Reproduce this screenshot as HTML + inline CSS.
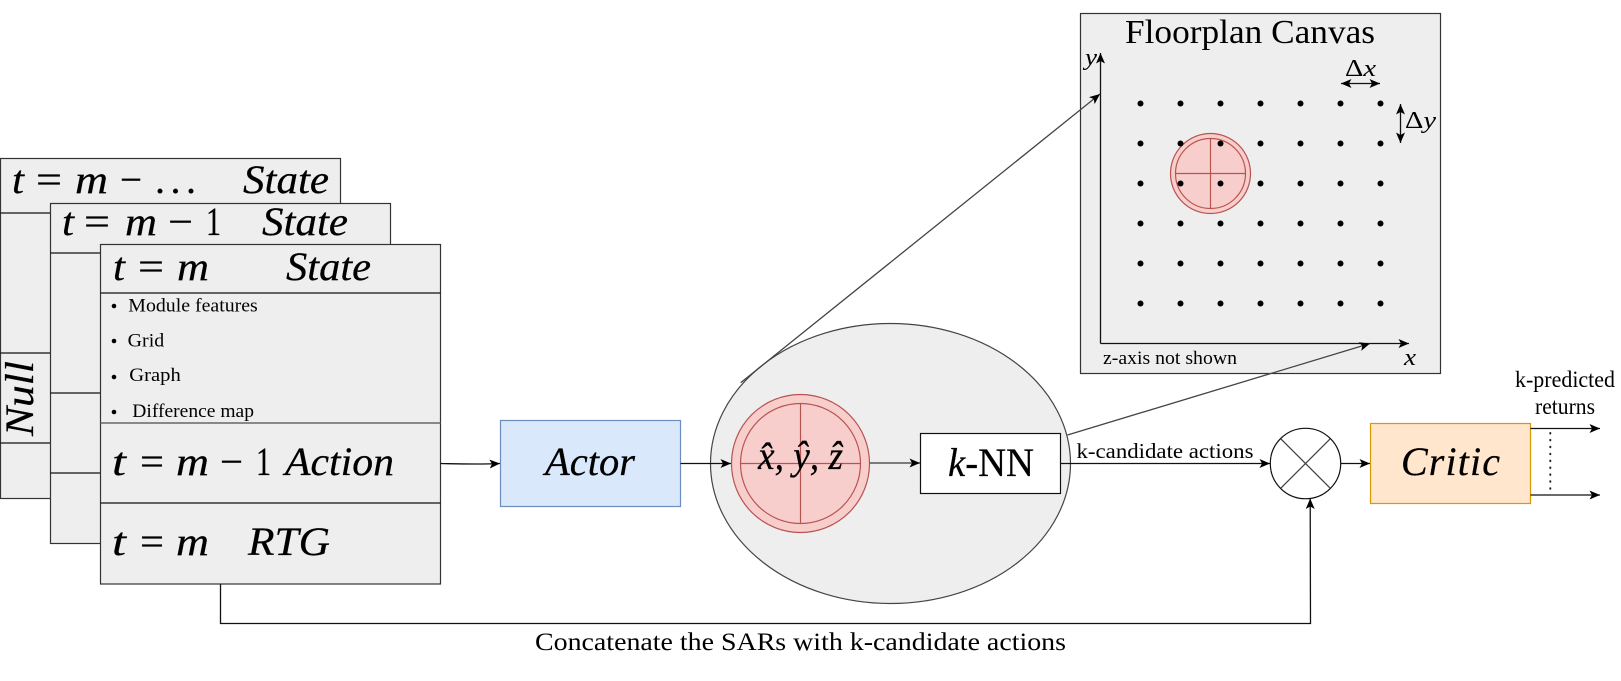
<!DOCTYPE html>
<html><head><meta charset="utf-8"><style>
html,body{margin:0;padding:0;background:#fff}
svg{display:block}
text{font-family:"Liberation Serif",serif;fill:#000}
.i{font-style:italic}
.b{stroke:#333;stroke-width:1.2;fill:#eee}
.l{stroke:#111;stroke-width:1.3;fill:none}
.g{stroke:#444;stroke-width:1.3;fill:none}
.r{stroke:#b85450;stroke-width:1.2;fill:#f8cecc}
.m{font-size:40px;stroke:#000;stroke-width:.25}
.s{font-size:18.5px}
</style></head><body>
<svg width="1621" height="681" viewBox="0 0 1621 681" xmlns="http://www.w3.org/2000/svg">
<defs>
<marker id="a" markerUnits="userSpaceOnUse" markerWidth="12" markerHeight="11" refX="10.5" refY="5" orient="auto-start-reverse"><path d="M0,0.5 L10.5,5 L0,9.5 L2.5,5Z" fill="#000"/></marker>
</defs>

<!-- back card -->
<rect class="b" x="0.5" y="158.5" width="340" height="340"/>
<path class="l" d="M0.5,213H50M0.5,353H50M0.5,443H50"/>
<text class="m i" x="12" y="193" textLength="12" lengthAdjust="spacingAndGlyphs">t</text>
<text class="m" x="36" y="193" textLength="26" lengthAdjust="spacingAndGlyphs">=</text>
<text class="m i" x="75" y="193" textLength="33" lengthAdjust="spacingAndGlyphs">m</text>
<text class="m" x="120" y="193" textLength="22" lengthAdjust="spacingAndGlyphs">−</text>
<text class="m" x="155" y="193" textLength="41">...</text>
<text class="m i" x="243" y="193" textLength="86" lengthAdjust="spacingAndGlyphs">State</text>
<text class="m i" transform="translate(33,436) rotate(-90)" x="0" y="0" textLength="75" lengthAdjust="spacingAndGlyphs">Null</text>

<!-- middle card -->
<rect class="b" x="50.5" y="203.5" width="340" height="340"/>
<path class="l" d="M50.5,253H100M50.5,393H100M50.5,473H100"/>
<text class="m i" x="62" y="235" textLength="12" lengthAdjust="spacingAndGlyphs">t</text>
<text class="m" x="84" y="235" textLength="26" lengthAdjust="spacingAndGlyphs">=</text>
<text class="m i" x="125" y="235" textLength="32" lengthAdjust="spacingAndGlyphs">m</text>
<text class="m" x="168" y="235" textLength="25" lengthAdjust="spacingAndGlyphs">−</text>
<text class="m" x="206" y="235" textLength="15" lengthAdjust="spacingAndGlyphs">1</text>
<text class="m i" x="262" y="235" textLength="86" lengthAdjust="spacingAndGlyphs">State</text>

<!-- front card -->
<rect class="b" x="100.5" y="244.5" width="340" height="339.5"/>
<path class="l" d="M100.5,293H440.5M100.5,503H440.5"/>
<path d="M100.5,423H440.5" stroke="#666" stroke-width="1.6" fill="none"/>
<text class="m i" x="113" y="280" textLength="12" lengthAdjust="spacingAndGlyphs">t</text>
<text class="m" x="138" y="280" textLength="26" lengthAdjust="spacingAndGlyphs">=</text>
<text class="m i" x="177" y="280" textLength="32" lengthAdjust="spacingAndGlyphs">m</text>
<text class="m i" x="286" y="280" textLength="85" lengthAdjust="spacingAndGlyphs">State</text>

<circle cx="114" cy="306" r="2.3"/><text class="s" x="128.3" y="311.5" textLength="129.5" lengthAdjust="spacingAndGlyphs">Module features</text>
<circle cx="114" cy="341" r="2.3"/><text class="s" x="127.7" y="346.5" textLength="36.5" lengthAdjust="spacingAndGlyphs">Grid</text>
<circle cx="114" cy="377" r="2.3"/><text class="s" x="129.3" y="381" textLength="51.5" lengthAdjust="spacingAndGlyphs">Graph</text>
<circle cx="114" cy="412" r="2.3"/><text class="s" x="132.3" y="417" textLength="121.7" lengthAdjust="spacingAndGlyphs">Difference map</text>

<text class="m i" x="112" y="475" textLength="14" lengthAdjust="spacingAndGlyphs">t</text>
<text class="m" x="140" y="475" textLength="24" lengthAdjust="spacingAndGlyphs">=</text>
<text class="m i" x="176" y="475" textLength="33" lengthAdjust="spacingAndGlyphs">m</text>
<text class="m" x="220" y="475" textLength="23" lengthAdjust="spacingAndGlyphs">−</text>
<text class="m" x="256" y="475" textLength="15" lengthAdjust="spacingAndGlyphs">1</text>
<text class="m i" x="285" y="475" textLength="109" lengthAdjust="spacingAndGlyphs">Action</text>

<text class="m i" x="112" y="555" textLength="14" lengthAdjust="spacingAndGlyphs">t</text>
<text class="m" x="140" y="555" textLength="24" lengthAdjust="spacingAndGlyphs">=</text>
<text class="m i" x="176" y="555" textLength="33" lengthAdjust="spacingAndGlyphs">m</text>
<text class="m i" x="248" y="555" textLength="82" lengthAdjust="spacingAndGlyphs">RTG</text>

<!-- actor -->
<path class="l" d="M440.5,463.5C465,464 480,464.5 500,463.5" marker-end="url(#a)"/>
<rect x="500.5" y="420.5" width="180" height="86" fill="#dae8fc" stroke="#6c8ebf" stroke-width="1.2"/>
<text class="m i" x="545" y="475" textLength="90" lengthAdjust="spacingAndGlyphs">Actor</text>

<!-- concat connector -->
<path class="l" d="M220.5,584V623.5H1310.5L1310.2,498.5" marker-end="url(#a)"/>
<text font-size="25" x="535" y="650" textLength="531" lengthAdjust="spacingAndGlyphs">Concatenate the SARs with k-candidate actions</text>

<!-- ellipse -->
<ellipse cx="890.5" cy="463.5" rx="180" ry="140" fill="#eee" stroke="#444" stroke-width="1.2"/>
<path class="l" d="M680.5,463.5H731" marker-end="url(#a)"/>
<circle class="r" cx="800.5" cy="463.5" r="69"/>
<circle class="r" cx="800.5" cy="463.5" r="60"/>
<path d="M740.5,463.5H860.5M800.5,403.5V523.5" stroke="#b85450" stroke-width="1.2"/>
<text class="m i" x="758" y="469" textLength="85" lengthAdjust="spacingAndGlyphs">x̂, ŷ, ẑ</text>
<path d="M869.5,463H920" stroke="#555" stroke-width="1.6" fill="none" marker-end="url(#a)"/>
<rect x="920.5" y="433.5" width="140" height="60" fill="#fff" stroke="#111" stroke-width="1.2"/>
<text class="m" x="948" y="476" font-size="40" textLength="86" lengthAdjust="spacingAndGlyphs"><tspan class="i">k</tspan>-NN</text>

<path class="l" d="M1060.5,463.5H1270" marker-end="url(#a)"/>
<text font-size="21.5" x="1076.5" y="458" textLength="177" lengthAdjust="spacingAndGlyphs">k-candidate actions</text>

<!-- mux -->
<circle cx="1305.5" cy="463.5" r="35.2" fill="#fff" stroke="#111" stroke-width="1.2"/>
<path class="g" d="M1280.8,438.8L1330.2,488.2M1330.2,438.8L1280.8,488.2"/>
<path class="l" d="M1340.7,463.5H1370" marker-end="url(#a)"/>

<!-- critic -->
<rect x="1370.5" y="423.5" width="160" height="80" fill="#ffe6cc" stroke="#d79b00" stroke-width="1.2"/>
<text class="m i" x="1401" y="475" textLength="99">Critic</text>
<path class="l" d="M1530.5,428.5H1600" marker-end="url(#a)"/>
<path class="l" d="M1530.5,495H1600" marker-end="url(#a)"/>
<path d="M1550.3,433V492" stroke="#222" stroke-width="2" stroke-linecap="round" stroke-dasharray="0.5 6.4" fill="none"/>
<text font-size="23" x="1515" y="387" textLength="100" lengthAdjust="spacingAndGlyphs">k-predicted</text>
<text font-size="23" x="1535" y="414" textLength="60" lengthAdjust="spacingAndGlyphs">returns</text>

<!-- canvas -->
<rect class="b" x="1080.5" y="13.5" width="360" height="360"/>
<text font-size="34" x="1125" y="43" textLength="250" lengthAdjust="spacingAndGlyphs">Floorplan Canvas</text>
<path class="l" d="M1100.5,343.5V53" marker-end="url(#a)"/>
<path class="l" d="M1100.5,343.5H1409" marker-end="url(#a)"/>
<circle cx="1210.5" cy="173.5" r="40" fill="#f8cecc" stroke="#b85450" stroke-width="1.2"/>
<circle cx="1210.5" cy="173.5" r="35" fill="none" stroke="#b85450" stroke-width="1.2"/>
<path d="M1175.5,173.5H1245.5M1210.5,138.5V208.5" stroke="#b85450" stroke-width="1.2"/>
<g fill="#000">
<circle cx="1140.5" cy="103.5" r="3"/><circle cx="1180.5" cy="103.5" r="3"/><circle cx="1220.5" cy="103.5" r="3"/><circle cx="1260.5" cy="103.5" r="3"/><circle cx="1300.5" cy="103.5" r="3"/><circle cx="1340.5" cy="103.5" r="3"/><circle cx="1380.5" cy="103.5" r="3"/>
<circle cx="1140.5" cy="143.5" r="3"/><circle cx="1180.5" cy="143.5" r="3"/><circle cx="1220.5" cy="143.5" r="3"/><circle cx="1260.5" cy="143.5" r="3"/><circle cx="1300.5" cy="143.5" r="3"/><circle cx="1340.5" cy="143.5" r="3"/><circle cx="1380.5" cy="143.5" r="3"/>
<circle cx="1140.5" cy="183.5" r="3"/><circle cx="1180.5" cy="183.5" r="3"/><circle cx="1220.5" cy="183.5" r="3"/><circle cx="1260.5" cy="183.5" r="3"/><circle cx="1300.5" cy="183.5" r="3"/><circle cx="1340.5" cy="183.5" r="3"/><circle cx="1380.5" cy="183.5" r="3"/>
<circle cx="1140.5" cy="223.5" r="3"/><circle cx="1180.5" cy="223.5" r="3"/><circle cx="1220.5" cy="223.5" r="3"/><circle cx="1260.5" cy="223.5" r="3"/><circle cx="1300.5" cy="223.5" r="3"/><circle cx="1340.5" cy="223.5" r="3"/><circle cx="1380.5" cy="223.5" r="3"/>
<circle cx="1140.5" cy="263.5" r="3"/><circle cx="1180.5" cy="263.5" r="3"/><circle cx="1220.5" cy="263.5" r="3"/><circle cx="1260.5" cy="263.5" r="3"/><circle cx="1300.5" cy="263.5" r="3"/><circle cx="1340.5" cy="263.5" r="3"/><circle cx="1380.5" cy="263.5" r="3"/>
<circle cx="1140.5" cy="303.5" r="3"/><circle cx="1180.5" cy="303.5" r="3"/><circle cx="1220.5" cy="303.5" r="3"/><circle cx="1260.5" cy="303.5" r="3"/><circle cx="1300.5" cy="303.5" r="3"/><circle cx="1340.5" cy="303.5" r="3"/><circle cx="1380.5" cy="303.5" r="3"/>
</g>
<path class="l" d="M1341,83.5H1380" marker-start="url(#a)" marker-end="url(#a)"/>
<path class="l" d="M1400.5,104V143" marker-start="url(#a)" marker-end="url(#a)"/>
<text font-size="24" x="1345" y="76" textLength="31" lengthAdjust="spacingAndGlyphs">Δ<tspan class="i">x</tspan></text>
<text font-size="24" x="1405" y="128" textLength="31" lengthAdjust="spacingAndGlyphs">Δ<tspan class="i">y</tspan></text>
<text class="i" font-size="24" x="1085" y="65" textLength="12" lengthAdjust="spacingAndGlyphs">y</text>
<text class="i" font-size="24" x="1404" y="365" textLength="12" lengthAdjust="spacingAndGlyphs">x</text>
<text font-size="19" x="1103" y="364" textLength="134" lengthAdjust="spacingAndGlyphs">z-axis not shown</text>

<!-- long connectors over canvas -->
<path class="g" d="M740.7,382.7L1100,94" marker-end="url(#a)"/>
<path class="g" d="M1067.5,435L1370,343.5" marker-end="url(#a)"/>
</svg>
</body></html>
